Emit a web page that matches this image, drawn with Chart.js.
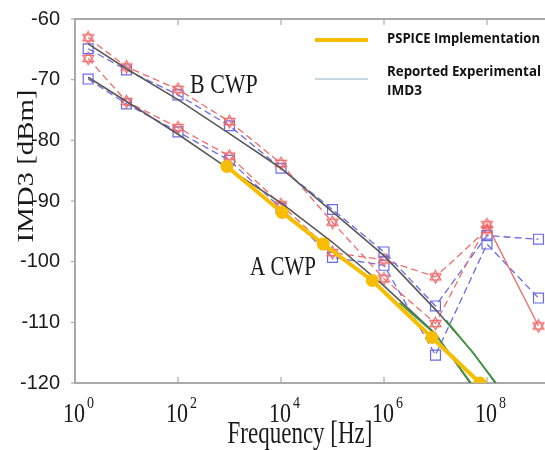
<!DOCTYPE html>
<html>
<head>
<meta charset="utf-8">
<script src="https://cdn.jsdelivr.net/npm/chart.js@4.4.1/dist/chart.umd.min.js"></script>
<style>
  html, body { margin: 0; padding: 0; background: #fff; overflow: hidden; }
  #wrap { width: 600px; height: 450px; }
</style>
</head>
<body>
<div id="wrap"><canvas id="myChart" width="600" height="450"></canvas></div>
<script>
// measured points (red stars / blue squares), x in Hz
const measFreq = [1.8, 10, 100, 1e3, 1e4, 1e5, 1e6, 1e7, 1e8, 1e9];
const bStars = [-63.1, -67.9, -71.6, -76.9, -83.8, -93.5, -102.8, -110.2, -93.9, -110.6];
const bSquares = [-64.9, -68.4, -72.5, -77.6, -84.6, -91.4, -98.4, -107.3, -95.7, -96.3];
const aStars = [-66.5, -73.6, -77.9, -82.6, -90.6, -98.5, -99.7, -102.5, -94.7, null];
const aSquares = [-69.9, -74.0, -78.6, -83.3, -91.2, -99.3, -100.6, -115.4, -97.1, -106.0];

// simulated curves (black)
const bSimFreq = [1.8, 10, 100, 1e3, 1e4, 1e5, 1e6, 1e7, 5.4e7, 1.45e8];
const bSimVal = [-64.1, -68.2, -73.3, -78.9, -84.6, -91.8, -99.0, -107.9, -115.0, -120];
const aSimFreq = [1.8, 10, 100, 1e3, 1e4, 1e5, 1e6, 1e7, 4.7e7];
const aSimVal = [-69.6, -73.6, -79.0, -84.8, -90.3, -96.8, -104.0, -111.9, -120];

// reported experimental (green)
const aExpFreq = [2e6, 1e7, 4.9e7];
const aExpVal = [-106.8, -112.0, -120];
const bExpFreq = [1.6e7, 5.4e7, 1.5e8];
const bExpVal = [-109.6, -115.1, -120];

// PSPICE implementation (yellow)
const pspiceFreq = [890, 1.05e4, 6.6e4, 5.9e5, 8.5e6, 7.3e7];
const pspiceVal = [-84.3, -91.9, -97.1, -103.1, -112.5, -120];

const xTickExp = [0, 2, 4, 6, 8];
const yTicks = [-60, -70, -80, -90, -100, -110, -120];

const red = '#f06a6a';
const blue = '#6a6ae6';
const axisGray = '#a9a9a9';

function toPoints(xs, ys) {
    let pts = [];
    for (let i = 0; i < xs.length; i++) {
        if (ys[i] !== null) pts.push({ x: xs[i], y: ys[i] });
    }
    return pts;
}

// hexagram marker
function makeStar() {
    const c = document.createElement('canvas');
    c.width = 15; c.height = 15;
    const g = c.getContext('2d');
    g.strokeStyle = red;
    g.lineWidth = 1.2;
    const r = 6.3, cx = 7.5, cy = 7.5;
    for (let k = 0; k < 2; k++) {
        g.beginPath();
        for (let j = 0; j < 3; j++) {
            const a = -Math.PI / 2 + k * Math.PI + j * 2 * Math.PI / 3;
            const px = cx + r * Math.cos(a), py = cy + r * Math.sin(a);
            if (j === 0) g.moveTo(px, py); else g.lineTo(px, py);
        }
        g.closePath();
        g.stroke();
    }
    return c;
}
const starImg = makeStar();

function measSet(values, isStar, solidTail) {
    return {
        data: toPoints(measFreq, values),
        borderColor: isStar ? red : blue,
        borderWidth: 1.3,
        borderDash: [7, 4],
        pointStyle: isStar ? starImg : 'rect',
        pointRadius: 7,
        pointBorderColor: isStar ? red : blue,
        pointBorderWidth: 1.2,
        pointBackgroundColor: 'rgba(0,0,0,0)',
        segment: {
            borderDash: (c) => (solidTail && c.p0.parsed.x >= 1e8) ? [] : [7, 4]
        },
        order: 5
    };
}

function lineSet(xs, ys, color, width, order) {
    return {
        data: toPoints(xs, ys),
        borderColor: color,
        borderWidth: width,
        pointRadius: 0,
        order: order
    };
}

const yellowSet = {
    data: toPoints(pspiceFreq, pspiceVal),
    borderColor: '#f7bd00',
    borderWidth: 4,
    pointRadius: 4.5,
    pointBackgroundColor: '#f7bd00',
    pointBorderColor: '#f7bd00',
    order: 1
};

const data = {
    datasets: [
        measSet(bStars, true, true),
        measSet(bSquares, false, false),
        measSet(aStars, true, false),
        measSet(aSquares, false, false),
        lineSet(bSimFreq, bSimVal, '#5a5a5a', 1.6, 4),
        lineSet(aSimFreq, aSimVal, '#5a5a5a', 1.6, 4),
        lineSet(aExpFreq, aExpVal, '#3c9b3c', 1.6, 3),
        lineSet(bExpFreq, bExpVal, '#3c9b3c', 1.6, 3),
        yellowSet
    ]
};

function stretchText(ctx, text, x, y, font, sx, sy, align) {
    ctx.save();
    ctx.translate(x, y);
    ctx.scale(sx, sy);
    ctx.font = font;
    ctx.textAlign = align || 'left';
    ctx.textBaseline = 'alphabetic';
    ctx.fillText(text, 0, 0);
    ctx.restore();
}

function fitText(ctx, text, x, y, font, width) {
    ctx.save();
    ctx.font = font;
    const w = ctx.measureText(text).width;
    ctx.translate(x, y);
    ctx.scale(width / w, 1);
    ctx.textAlign = 'left';
    ctx.textBaseline = 'middle';
    ctx.fillText(text, 0, 0);
    ctx.restore();
}

const decorPlugin = {
    id: 'decor',
    afterDraw(chart) {
        const { ctx, chartArea, scales } = chart;
        const xs = scales.x, ys = scales.y;
        ctx.save();

        // top frame and tick marks
        ctx.strokeStyle = axisGray;
        ctx.lineWidth = 2;
        ctx.beginPath();
        ctx.moveTo(chartArea.left, chartArea.top);
        ctx.lineTo(chartArea.right, chartArea.top);
        ctx.stroke();
        ctx.lineWidth = 1.2;
        xTickExp.forEach((e) => {
            const px = xs.getPixelForValue(Math.pow(10, e));
            if (e === 0) return;
            ctx.beginPath();
            ctx.moveTo(px, chartArea.bottom);
            ctx.lineTo(px, chartArea.bottom - 6);
            ctx.moveTo(px, chartArea.top);
            ctx.lineTo(px, chartArea.top + 6);
            ctx.stroke();
        });
        yTicks.forEach((v) => {
            const py = ys.getPixelForValue(v);
            ctx.beginPath();
            ctx.moveTo(chartArea.left - 4, py);
            ctx.lineTo(chartArea.left, py);
            ctx.stroke();
        });

        // x tick labels with exponents
        ctx.fillStyle = '#1a1a1a';
        xTickExp.forEach((e) => {
            const px = xs.getPixelForValue(Math.pow(10, e));
            stretchText(ctx, '10', px - 1, 422, '22px "Liberation Serif"', 1, 1.27, 'center');
            stretchText(ctx, String(e), px + 12, 408, '14px "Liberation Serif"', 1, 1.2, 'left');
        });

        // axis titles
        stretchText(ctx, 'Frequency [Hz]', 300, 443, '23px "Liberation Serif"', 1, 1.35, 'center');
        ctx.save();
        ctx.translate(33, 166);
        ctx.rotate(-Math.PI / 2);
        stretchText(ctx, 'IMD3 [dBm]', 0, 0, '24px "Liberation Serif"', 1.2, 1, 'center');
        ctx.restore();

        // curve labels
        stretchText(ctx, 'B CWP', 190, 93, '22px "Liberation Serif"', 1, 1.23, 'left');
        stretchText(ctx, 'A CWP', 250, 275, '21px "Liberation Serif"', 1, 1.25, 'left');

        // legend
        ctx.lineWidth = 4;
        ctx.strokeStyle = '#f7bd00';
        ctx.beginPath();
        ctx.moveTo(315, 40);
        ctx.lineTo(368, 40);
        ctx.stroke();
        ctx.lineWidth = 1.2;
        ctx.strokeStyle = '#8fb0c8';
        ctx.beginPath();
        ctx.moveTo(315, 79);
        ctx.lineTo(368, 79);
        ctx.stroke();
        ctx.fillStyle = '#111';
        fitText(ctx, 'PSPICE Implementation', 387, 39, 'bold 14px "Open Sans"', 153);
        fitText(ctx, 'Reported Experimental', 387, 72, 'bold 14px "Open Sans"', 154);
        fitText(ctx, 'IMD3', 387, 91, 'bold 14px "Open Sans"', 35);

        ctx.restore();
    }
};

const config = {
    type: 'line',
    data: data,
    options: {
        responsive: false,
        animation: false,
        layout: { padding: { top: 13, right: 10, left: 0, bottom: 0 } },
        plugins: {
            legend: { display: false },
            tooltip: { enabled: false }
        },
        scales: {
            x: {
                type: 'logarithmic',
                min: 1,
                max: 1e10,
                afterBuildTicks: (s) => {
                    s.ticks = xTickExp.map((e) => ({ value: Math.pow(10, e) }));
                },
                afterFit: (s) => { s.height = 67; },
                ticks: { display: false },
                grid: { display: false },
                border: { color: axisGray, width: 2 }
            },
            y: {
                min: -120,
                max: -60,
                afterBuildTicks: (s) => {
                    s.ticks = yTicks.map((v) => ({ value: v }));
                },
                afterFit: (s) => { s.width = 75; },
                ticks: {
                    color: '#1a1a1a',
                    padding: 7,
                    font: { family: '"Liberation Sans", Arial, sans-serif', size: 20 }
                },
                grid: { display: false },
                border: { color: axisGray, width: 2 }
            }
        }
    },
    plugins: [decorPlugin]
};

const ctx = document.getElementById('myChart');
let myChart = new Chart(ctx, config);
</script>
</body>
</html>
